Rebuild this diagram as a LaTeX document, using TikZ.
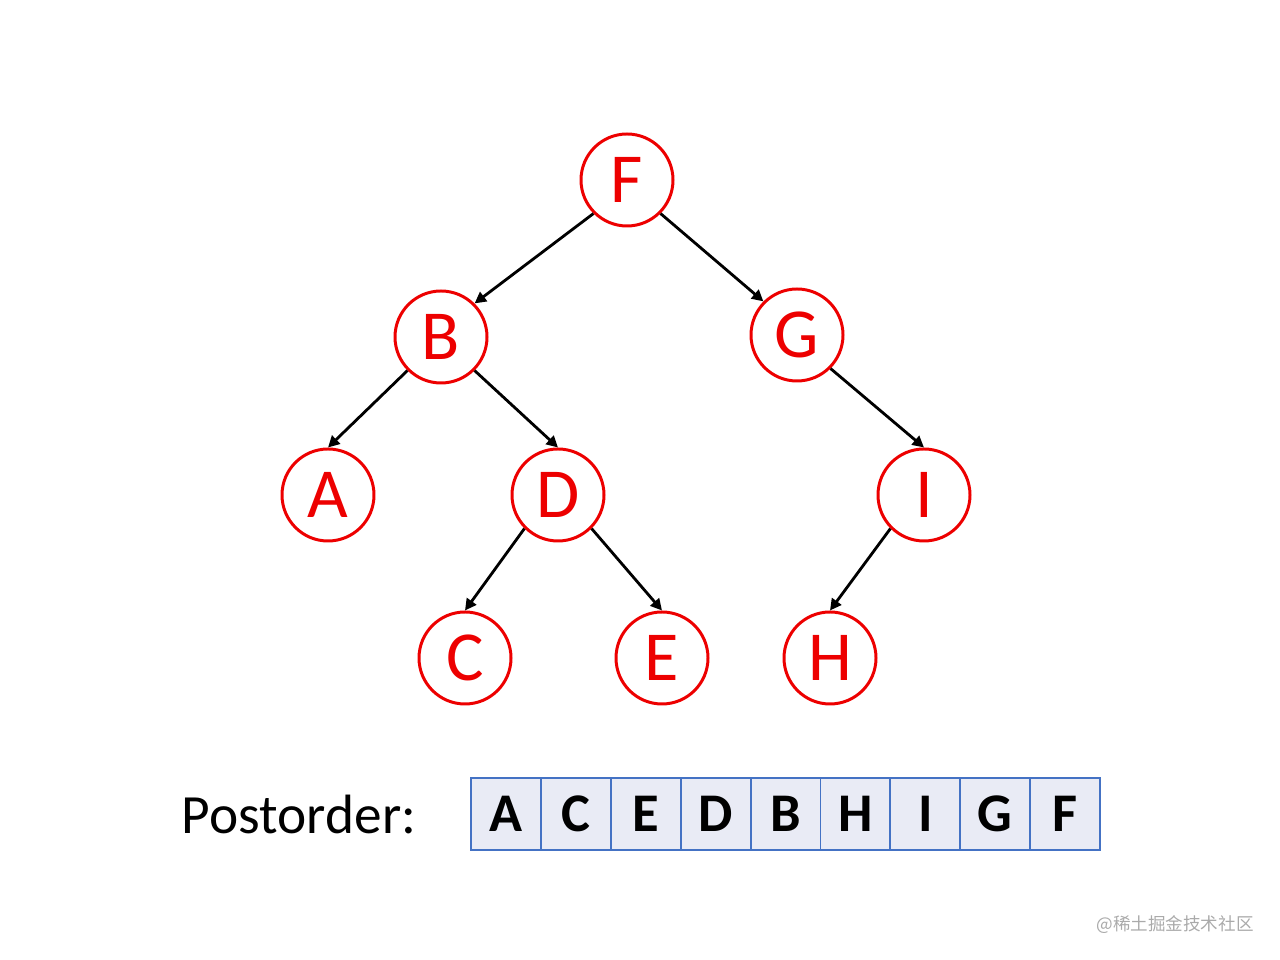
\documentclass[tikz,border=0pt]{standalone}
\usepackage{fontspec}
\setmainfont{Carlito}
\newfontfamily\cjkfont{Noto Sans CJK SC}
\usetikzlibrary{arrows.meta}

\definecolor{nodered}{RGB}{237,0,0}
\definecolor{cellblue}{RGB}{68,114,196}
\definecolor{cellfill}{RGB}{233,235,245}
\definecolor{markgray}{RGB}{170,170,170}

\tikzset{
    treenode/.style={circle, draw=nodered, line width=1.7pt, fill=white,
        minimum size=1.84cm, inner sep=0pt, text=nodered,
        font=\fontsize{40}{40}\selectfont},
    treeedge/.style={line width=1.6pt, -{Triangle[length=6.5pt,width=6.5pt]}},
    cell/.style={draw=cellblue, line width=1.1pt, fill=cellfill,
        minimum width=1.398cm, minimum height=1.44cm, inner sep=0pt,
        font=\fontsize{31}{31}\selectfont\bfseries}
}

\begin{document}
\begin{tikzpicture}
    \useasboundingbox (0,0) rectangle (25.6,19.2);

    \node[treenode] (F) at (12.54,15.6) {F};
    \node[treenode] (B) at (8.82,12.46) {B};
    \node[treenode] (G) at (15.94,12.5) {G};
    \node[treenode] (A) at (6.56,9.3) {A};
    \node[treenode] (D) at (11.16,9.3) {D};
    \node[treenode] (I) at (18.48,9.3) {I};
    \node[treenode] (C) at (9.3,6.04) {C};
    \node[treenode] (E) at (13.24,6.04) {E};
    \node[treenode] (H) at (16.6,6.04) {H};

    \draw[treeedge] (F.south west)--(B.north east);
    \draw[treeedge] (F.south east)--(G.north west);
    \draw[treeedge] (B.south west)--(A.north);
    \draw[treeedge] (B.south east)--(D.north);
    \draw[treeedge] (D.south west)--(C.north);
    \draw[treeedge] (D.south east)--(E.north);
    \draw[treeedge] (G.south east)--(I.north);
    \draw[treeedge] (I.south west)--(H.north);

    \node[font=\fontsize{31.5}{31.5}\selectfont] (label) at (5.98,2.9) {Postorder:};
    \foreach \name [count=\i] in {A,C,E,D,B,H,I,G,F}
        \node[cell] (c\i) at ({9.42+1.398*(\i-0.5)},2.92) {\name};

    \node[text=markgray, font=\cjkfont\fontsize{10}{10}\selectfont] (mark) at (23.5,0.7) {@稀土掘金技术社区};
\end{tikzpicture}
\end{document}
